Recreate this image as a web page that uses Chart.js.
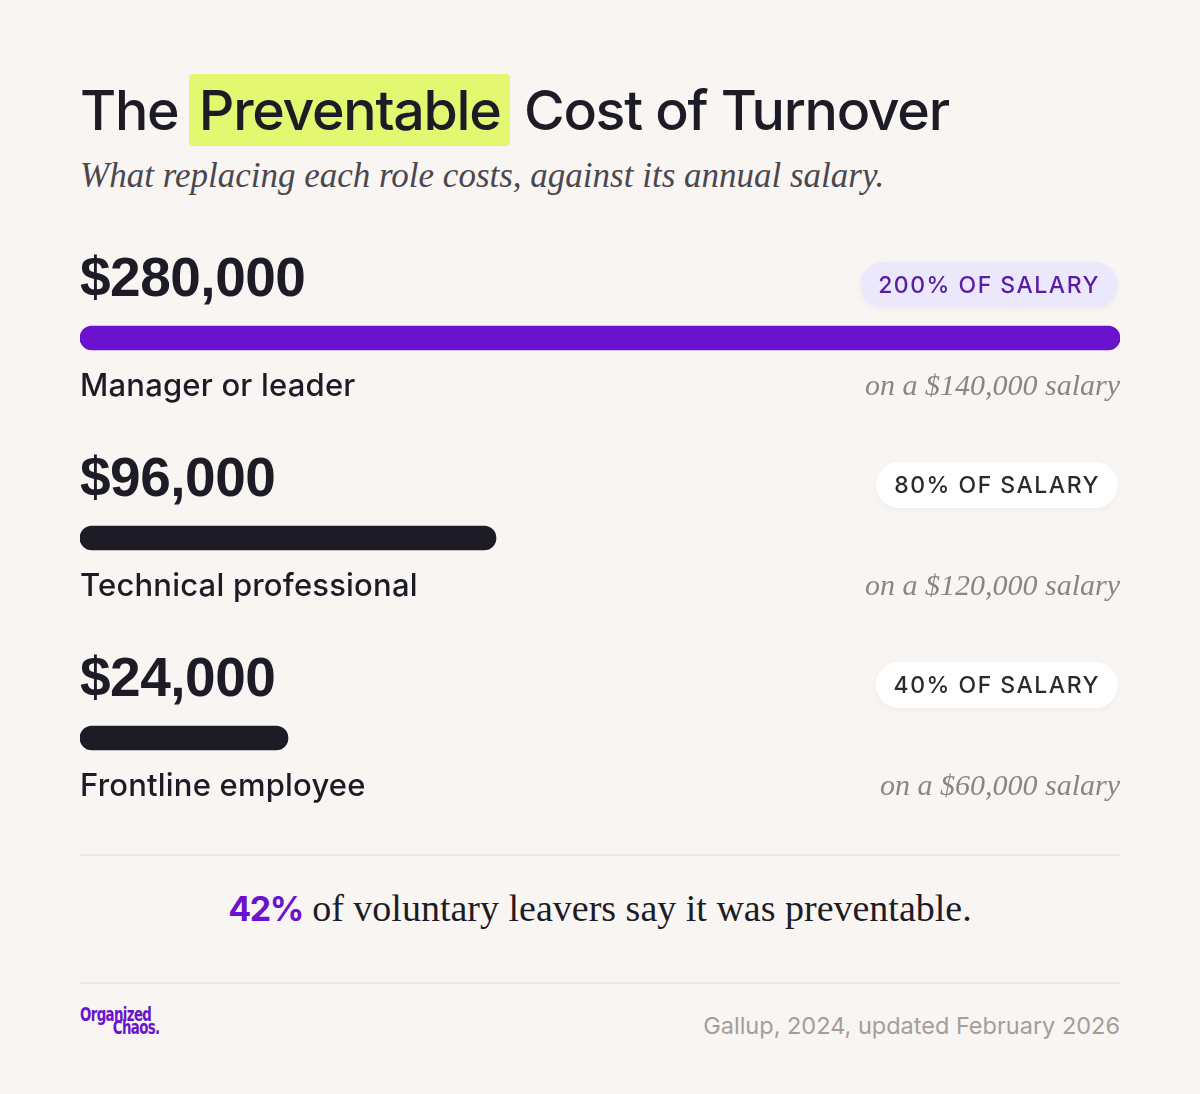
<!DOCTYPE html>
<html>
<head>
<meta charset="utf-8">
<script src="https://cdn.jsdelivr.net/npm/chart.js@4"></script>
<style>
  body { margin: 0; background: #f8f5f3; width: 1200px; height: 1094px; position: relative; overflow: hidden; font-family: Inter, sans-serif; color: #1d1c26; }
  .abs { position: absolute; white-space: nowrap; }
  #title { left: 80px; top: 74px; font-size: 55.5px; font-weight: 500; letter-spacing: -1.3px; line-height: 72px; }
  #title .hl { display: inline-block; background: #e3f770; padding: 0 10px; border-radius: 4px; margin-left: -3px; }
  #subtitle { left: 80px; top: 156px; font-family: "Liberation Serif", serif; font-style: italic; font-size: 35px; color: #4a4750; }
  #bars { position: absolute; left: 0; top: 238px; width: 1200px; height: 600px; }
  .rule { position: absolute; left: 80px; width: 1040px; height: 2px; background: #eee9e6; }
  #note { left: 0; width: 1200px; top: 886px; text-align: center; font-family: "Liberation Serif", serif; font-size: 38px; color: #1d1c26; }
  #note b { font-family: Inter, sans-serif; font-weight: 700; color: #6b12cf; font-size: 34px; letter-spacing: -1.5px; }
  #logo { left: 80px; top: 1008px; color: #6b12cf; font-family: "DejaVu Sans Condensed", sans-serif; font-weight: 700; font-size: 19px; line-height: 13px; letter-spacing: -0.8px; transform: scaleX(0.78); transform-origin: left top; }
  #source { right: 80px; top: 1011px; font-size: 23.5px; color: #a39e9a; }
</style>
</head>
<body>
<div id="title" class="abs">The <span class="hl">Preventable</span> Cost of Turnover</div>
<div id="subtitle" class="abs">What replacing each role costs, against its annual salary.</div>
<div id="bars"><canvas id="cost-chart"></canvas></div>
<div class="rule" style="top:854px"></div>
<div id="note" class="abs"><b>42%</b> of voluntary leavers say it was preventable.</div>
<div class="rule" style="top:982px"></div>
<div id="logo" class="abs">Organized<br><span style="margin-left:42px">Chaos.</span></div>
<div id="source" class="abs">Gallup, 2024, updated February 2026</div>

<script>
// role rows, top to bottom
const roles = ['Manager or leader', 'Technical professional', 'Frontline employee'];
const replacementCost = [280000, 96000, 24000];
const salaries = [140000, 120000, 60000];
const pctOfSalary = [200, 80, 40];

const barColors = ['#6b12cf', '#1d1c26', '#1d1c26'];

const money = v => '$' + v.toLocaleString('en-US');

// text around each bar: cost, pill, role, salary
const rowLabels = {
  id: 'rowLabels',
  afterDatasetsDraw(chart) {
    const ctx = chart.ctx;
    const area = chart.chartArea;
    const meta = chart.getDatasetMeta(0);
    ctx.save();
    meta.data.forEach((bar, i) => {
      const y = bar.y;

      ctx.fillStyle = '#1d1c26';
      ctx.textAlign = 'left';
      ctx.textBaseline = 'alphabetic';
      ctx.letterSpacing = '-0.5px';
      ctx.font = '700 55px "Liberation Sans"';
      ctx.fillText(money(replacementCost[i]), area.left, y - 42);

      ctx.letterSpacing = '0.2px';
      ctx.font = '500 31px Inter';
      ctx.fillText(roles[i], area.left, y + 58);

      ctx.letterSpacing = '0px';
      ctx.textAlign = 'right';
      ctx.fillStyle = '#8b8682';
      ctx.font = 'italic 30px "Liberation Serif"';
      ctx.fillText('on a ' + money(salaries[i]) + ' salary', area.right, y + 57);

      // pill
      ctx.font = '500 23px Inter';
      ctx.letterSpacing = '1.5px';
      const txt = pctOfSalary[i] + '% OF SALARY';
      const w = ctx.measureText(txt).width + 36;
      const h = 46, r = 23;
      const px = area.right - 2 - w, py = y - 76;
      ctx.beginPath();
      ctx.roundRect(px, py, w, h, r);
      ctx.fillStyle = i === 0 ? '#ece8fb' : '#ffffff';
      ctx.shadowColor = 'rgba(0,0,0,0.04)';
      ctx.shadowBlur = 6;
      ctx.shadowOffsetY = 2;
      ctx.fill();
      ctx.shadowColor = 'transparent';
      ctx.fillStyle = i === 0 ? '#5a1ca6' : '#2b2a30';
      ctx.textAlign = 'left';
      ctx.textBaseline = 'middle';
      ctx.fillText(txt, px + 18, py + h / 2 + 1);
    });
    ctx.restore();
  }
};

new Chart(document.getElementById('cost-chart'), {
  type: 'bar',
  data: {
    labels: roles,
    datasets: [{
      data: pctOfSalary,
      backgroundColor: barColors,
      barThickness: 24,
      borderRadius: 12,
      borderSkipped: false
    }]
  },
  options: {
    indexAxis: 'y',
    responsive: true,
    maintainAspectRatio: false,
    animation: false,
    layout: { padding: { left: 80, right: 80, top: 0, bottom: 0 } },
    scales: {
      x: { display: false, min: 0, max: 200 },
      y: { display: false }
    },
    plugins: {
      legend: { display: false },
      tooltip: { enabled: false }
    }
  },
  plugins: [rowLabels]
});
</script>
</body>
</html>
